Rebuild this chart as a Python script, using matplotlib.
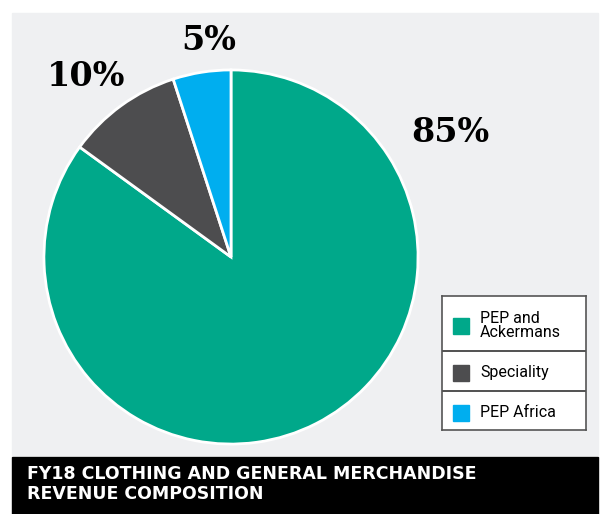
import matplotlib.pyplot as plt
from matplotlib.patches import Rectangle

labels = ['PEP and\nAckermans', 'Speciality', 'PEP Africa']
values = [85, 10, 5]
pct_text = ['85%', '10%', '5%']
colors = ['#00A88A', '#4D4D4F', '#00AEEF']
title = 'FY18 CLOTHING AND GENERAL MERCHANDISE\nREVENUE COMPOSITION'

W, H = 601, 514
fig = plt.figure(figsize=(W / 100, H / 100), dpi=100)
fig.patch.set_facecolor('white')

# grey panel
fig.patches.append(Rectangle((12 / W, 1 - 455 / H), 586 / W, 442 / H,
                             transform=fig.transFigure, color='#EFF0F2', zorder=-2))
# black banner
fig.patches.append(Rectangle((12 / W, 0), 586 / W, 57 / H,
                             transform=fig.transFigure, color='black', zorder=-2))
fig.text(27 / W, 1 - 484 / H, title, color='white', fontsize=12.5,
         fontweight='bold', family='DejaVu Sans', va='center', ha='left',
         linespacing=1.1)

# pie
cx, cy, r = 231, 257, 188
ax = fig.add_axes([(cx - r) / W, 1 - (cy + r) / H, 2 * r / W, 2 * r / H])
ax.pie(values, colors=colors, startangle=90, counterclock=False,
       wedgeprops=dict(edgecolor='white', linewidth=2))
ax.set_xlim(-1.005, 1.005)
ax.set_ylim(-1.005, 1.005)
ax.set_aspect('equal')
ax.axis('off')

pos = [(450, 133), (86, 77), (209, 40)]
for t, (x, y) in zip(pct_text, pos):
    fig.text(x / W, 1 - y / H, t, fontsize=24, fontweight='bold',
             family='DejaVu Serif', ha='center', va='center')

# legend box
lx0, ly0, lx1, ly1 = 442, 296, 586, 430
lax = fig.add_axes([lx0 / W, 1 - ly1 / H, (lx1 - lx0) / W, (ly1 - ly0) / H])
lax.set_xlim(lx0, lx1)
lax.set_ylim(ly1, ly0)
lax.set_facecolor('white')
for s in lax.spines.values():
    s.set_color('#555555')
    s.set_linewidth(1.2)
lax.set_xticks([])
lax.set_yticks([])
rows = [(296, 351), (351, 391), (391, 430)]
for i, (lab, col) in enumerate(zip(labels, colors)):
    y0, y1 = rows[i]
    if i > 0:
        lax.axhline(y0, color='#333333', linewidth=1.2)
    ym = (y0 + y1) / 2 + 2
    lax.add_patch(Rectangle((453, ym - 8), 16, 16, color=col))
    lax.text(480, ym, lab, fontsize=11.5, family='Roboto', va='center',
             ha='left', linespacing=0.9)

fig.savefig('out.png', dpi=100, facecolor='white')
